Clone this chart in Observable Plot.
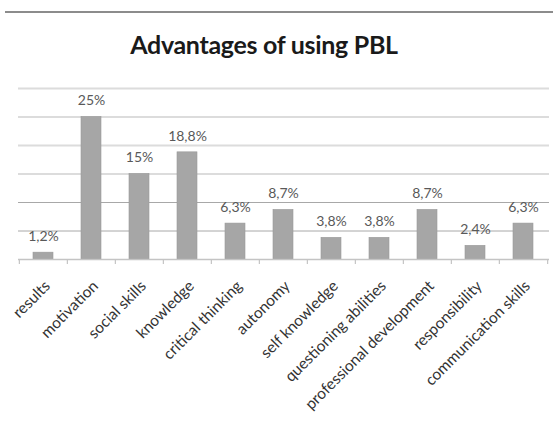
<!DOCTYPE html>
<html>
<head>
<meta charset="utf-8">
<script src="https://cdn.jsdelivr.net/npm/d3@7"></script>
<script src="https://cdn.jsdelivr.net/npm/@observablehq/plot@0.6"></script>
<style>
  html, body { margin: 0; padding: 0; background: #fff; }
  #wrap { position: relative; width: 553px; height: 428px; overflow: hidden; }
  #topline { position: absolute; left: 5px; right: 0; top: 11px; height: 2px; background: #8c8c8c; }
  #title { position: absolute; left: 0; width: 528px; top: 29px; text-align: center;
           font-family: Lato, sans-serif; font-weight: 700; font-size: 25px; color: #1a1a1a; letter-spacing: -0.3px; }
  #chart { position: absolute; left: 0; top: 80px; }
</style>
</head>
<body>
<div id="wrap">
  <div id="topline"></div>
  <div id="title">Advantages of using PBL</div>
  <div id="chart"></div>
</div>
<script>
const categories = ["results", "motivation", "social skills", "knowledge", "critical thinking", "autonomy",
  "self knowledge", "questioning abilities", "professional development", "responsibility", "communication skills"];
const values = [1.2, 25, 15, 18.8, 6.3, 8.7, 3.8, 3.8, 8.7, 2.4, 6.3];
const gridTicks = [5, 10, 15, 20, 25, 30];

const data = categories.map((c, i) => ({category: c, value: values[i]}));
const fmt = v => String(v).replace(".", ",") + "%";

const W = 553, H = 348, mL = 18, mR = 4, mT = 8, mB = 169;
const bw = (W - mL - mR) / categories.length;

const chart = Plot.plot({
  width: W, height: H,
  marginLeft: mL, marginRight: mR, marginTop: mT, marginBottom: mB,
  style: {fontFamily: "Lato, sans-serif", background: "#fff"},
  x: {domain: categories, paddingInner: 0.58, paddingOuter: 0.29, align: 0.5, label: null},
  y: {domain: [0, 30], axis: null},
  marks: [
    Plot.ruleY(gridTicks.filter(d => d > 10), {stroke: "#dcdcdc", strokeWidth: 2}),
    Plot.ruleY(gridTicks.filter(d => d <= 10), {stroke: "#a8a8a8", strokeWidth: 1}),
    Plot.barY(data, {x: "category", y: "value", fill: "#a6a6a6", stroke: "#999", strokeWidth: 0.6}),
    Plot.ruleY([0], {stroke: "#c4c4c4", strokeWidth: 1.5}),
    Plot.ruleX(categories, {x: d => d, dx: -bw / 2, y1: 0, y2: 0, insetBottom: -5, stroke: "#c4c4c4", strokeWidth: 1.2}),
    Plot.ruleX(categories.slice(-1), {x: d => d, dx: bw / 2, y1: 0, y2: 0, insetBottom: -5, stroke: "#c4c4c4", strokeWidth: 1.2}),
    Plot.text(data, {x: "category", y: "value", text: d => fmt(d.value), dy: -16,
      fontSize: 14, fill: "#595959"}),
    Plot.axisX({tickSize: 0, tickPadding: 24, dx: 4, tickRotate: -45, fontSize: 15.5, color: "#333", label: null})
  ]
});
document.getElementById("chart").appendChild(chart);
</script>
</body>
</html>
